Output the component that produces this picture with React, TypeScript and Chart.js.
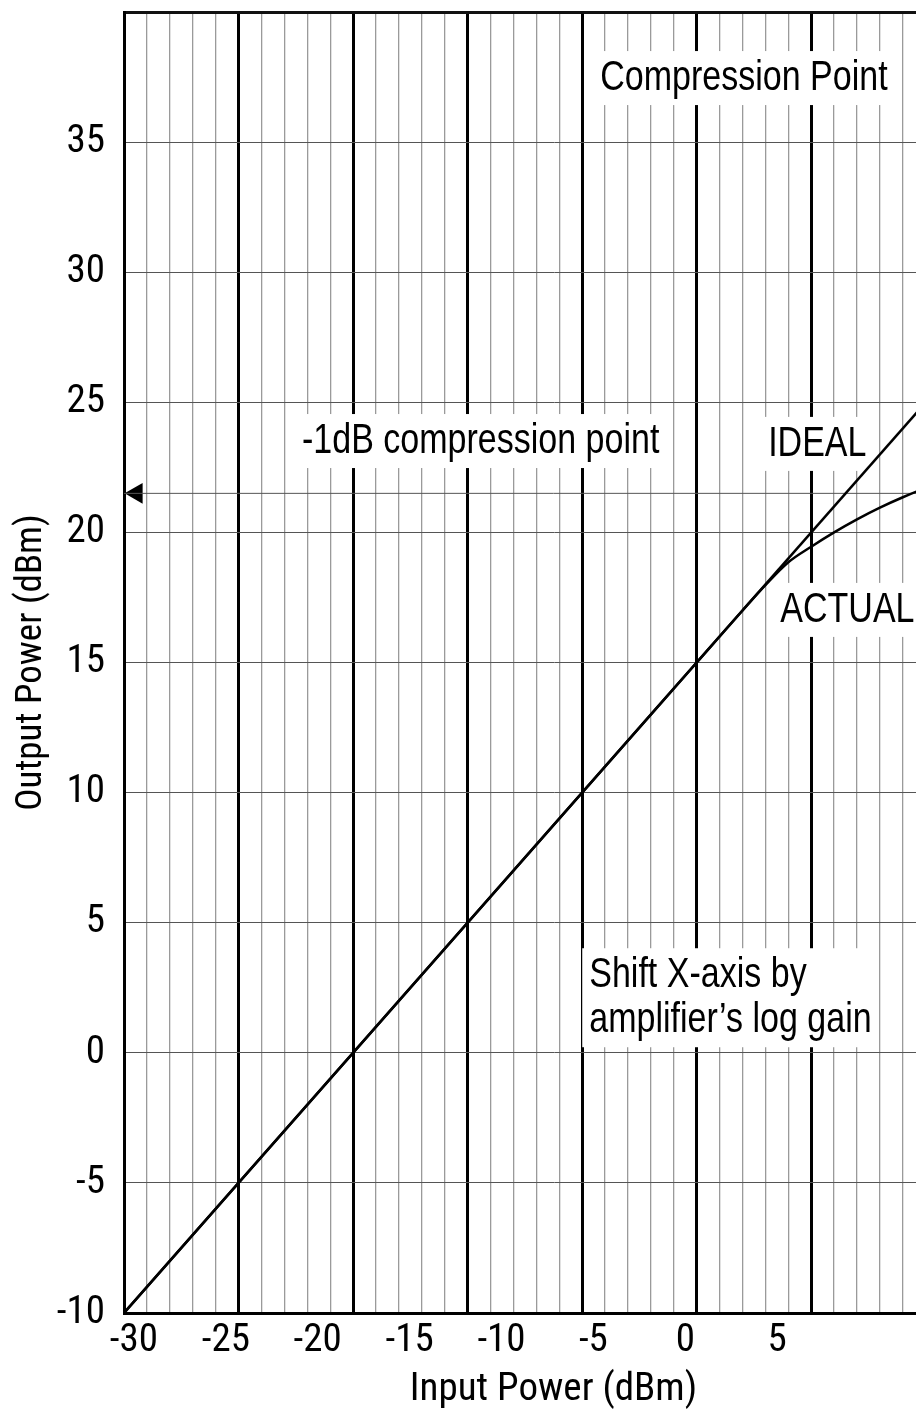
import React, { useEffect, useRef } from "react";
import { Chart, registerables } from "chart.js";

Chart.register(...registerables);

// ---- data (x values are in grid units of the drawn input axis) ----
const idealInput = [-30, 7.5];
const idealOutput = [-10, 27.5];
const actualInput = [-30, -20, -10, -5, -3, -2, -1, 0, 1, 2, 3, 4, 5, 6, 7.5];
const actualOutput = [-10, 0, 10, 15, 17, 17.97, 18.85, 19.45, 20.0, 20.5, 20.95, 21.35, 21.7, 21.95, 22.25];
const compressionLevel = 21.5;
const compressionSpan = [-30, 7.5];
const markerInput = [-29.45];
const xTickLabels = [-30, -25, -20, -15, -10, -5, 0, 5];
const yTickHidden = [40];

const notes = [
  { x: -9.21, y: 37.0, lines: ["Compression Point"] },
  { x: -22.23, y: 23.05, lines: ["-1dB compression point"] },
  { x: -1.88, y: 22.94, lines: ["IDEAL"] },
  { x: -1.35, y: 16.56, lines: ["ACTUAL"] },
  { x: -9.69, y: 2.52, lines: ["Shift X-axis by", "amplifier\u2019s log gain"] },
];

const AXIS_FAMILY = "Roboto";
const AXIS_STRETCH = "condensed";
const NOTE_FONT = "42px 'Liberation Sans', Arial, sans-serif";
const NOTE_SQUEEZE = 0.81;

export default function App() {
  const ref = useRef<HTMLCanvasElement | null>(null);

  useEffect(() => {
    if (!ref.current) return;

    const notesPlugin = {
      id: "notes",
      beforeDatasetsDraw(chart: any) {
        const { ctx, scales } = chart;
        const xs = scales.xg;
        const ys = scales.y;
        ctx.save();
        ctx.font = NOTE_FONT;
        const lh = 45;
        for (const n of notes) {
          const x = xs.getPixelForValue(n.x);
          const y = ys.getPixelForValue(n.y);
          const w = Math.max(...n.lines.map((l) => ctx.measureText(l).width)) * NOTE_SQUEEZE;
          const top = y - 39;
          const bottom = y + (n.lines.length - 1) * lh + 15;
          ctx.fillStyle = "#fff";
          ctx.fillRect(x - 7, top, w + 14, bottom - top);
          ctx.fillStyle = "#000";
          ctx.textAlign = "left";
          ctx.textBaseline = "alphabetic";
          n.lines.forEach((l, i) => {
            ctx.save();
            ctx.translate(x, y + i * lh);
            ctx.scale(NOTE_SQUEEZE, 1);
            ctx.fillText(l, 0, 0);
            ctx.restore();
          });
        }
        ctx.restore();
      },
    };

    const axisFont = (size: number, lineHeight = 1.2) => ({
      size,
      family: AXIS_FAMILY,
      weight: AXIS_STRETCH,
      lineHeight,
    });

    const chart = new Chart(ref.current, {
      type: "scatter",
      data: {
        datasets: [
          {
            label: "IDEAL",
            data: idealInput.map((x, i) => ({ x, y: idealOutput[i] })),
            xAxisID: "xg",
            yAxisID: "y",
            showLine: true,
            borderColor: "#000",
            borderWidth: 2.5,
            pointRadius: 0,
          },
          {
            label: "ACTUAL",
            data: actualInput.map((x, i) => ({ x, y: actualOutput[i] })),
            xAxisID: "xg",
            yAxisID: "y",
            showLine: true,
            cubicInterpolationMode: "monotone",
            borderColor: "#000",
            borderWidth: 2.5,
            pointRadius: 0,
          },
          {
            label: "Compression",
            data: compressionSpan.map((x) => ({ x, y: compressionLevel })),
            xAxisID: "xg",
            yAxisID: "y",
            showLine: true,
            borderColor: "#555",
            borderWidth: 1,
            pointRadius: 0,
          },
          {
            label: "Marker",
            data: markerInput.map((x) => ({ x, y: compressionLevel })),
            xAxisID: "xg",
            yAxisID: "y",
            showLine: false,
            pointStyle: "triangle",
            rotation: -90,
            pointRadius: 12,
            backgroundColor: "#000",
            borderColor: "#000",
            borderWidth: 0,
            clip: false,
          } as any,
        ],
      },
      options: {
        animation: false,
        responsive: false,
        devicePixelRatio: 1,
        events: [],
        layout: { padding: { top: 6, right: 17, left: 0, bottom: 0 } },
        plugins: { legend: { display: false }, tooltip: { enabled: false } },
        scales: {
          xg: {
            type: "linear",
            position: "top",
            min: -30,
            max: 7.5,
            ticks: { display: false, stepSize: 1 },
            grid: {
              drawTicks: false,
              color: (c: any) => (c.tick && c.tick.value % 5 === 0 ? "#000" : "#9a9a9a"),
              lineWidth: (c: any) => (c.tick && c.tick.value % 5 === 0 ? 3 : 1.3),
            },
            border: { display: true, width: 3, color: "#111" },
            afterFit: (s: any) => {
              s.height = 0;
              s.paddingLeft = 0;
              s.paddingRight = 0;
            },
          },
          x: {
            type: "linear",
            position: "bottom",
            min: -30.54,
            max: 16.2,
            afterBuildTicks: (s: any) => {
              s.ticks = xTickLabels.map((v) => ({ value: v }));
            },
            grid: { display: false, drawTicks: false },
            border: { display: true, width: 3, color: "#000" },
            ticks: {
              padding: 5,
              color: "#000",
              maxRotation: 0,
              autoSkip: false,
              font: axisFont(39),
              callback: (v: any) => String(v),
            },
            title: {
              display: true,
              text: "Input Power (dBm)",
              color: "#000",
              padding: 0,
              font: axisFont(39, 1.1),
            },
            afterFit: (s: any) => {
              s.height = 99;
              s.paddingLeft = 0;
              s.paddingRight = 0;
            },
          },
          y: {
            type: "linear",
            position: "left",
            min: -10,
            max: 40,
            afterBuildTicks: (s: any) => {
              s.ticks = s.ticks.filter((t: any) => !yTickHidden.includes(t.value));
            },
            ticks: {
              stepSize: 5,
              padding: 19,
              color: "#000",
              font: axisFont(39),
              callback: (v: any) => String(v),
            },
            grid: { color: "#555", lineWidth: 1, drawTicks: false },
            border: { display: true, width: 3, color: "#000" },
            title: {
              display: true,
              text: "Output Power (dBm)",
              color: "#000",
              padding: { top: 10, bottom: 0 },
              font: axisFont(37, 1.2),
            },
            afterFit: (s: any) => {
              s.width = 124;
              s.paddingTop = 0;
              s.paddingBottom = 0;
            },
          },
        },
      } as any,
      plugins: [notesPlugin],
    });
    return () => chart.destroy();
  }, []);

  return (
    <div
      style={{
        position: "fixed",
        left: 0,
        top: 0,
        width: 916,
        height: 1412,
        overflow: "hidden",
        background: "#fff",
      }}
    >
      <canvas ref={ref} width={1000} height={1412} style={{ display: "block", width: 1000, height: 1412 }} />
    </div>
  );
}
